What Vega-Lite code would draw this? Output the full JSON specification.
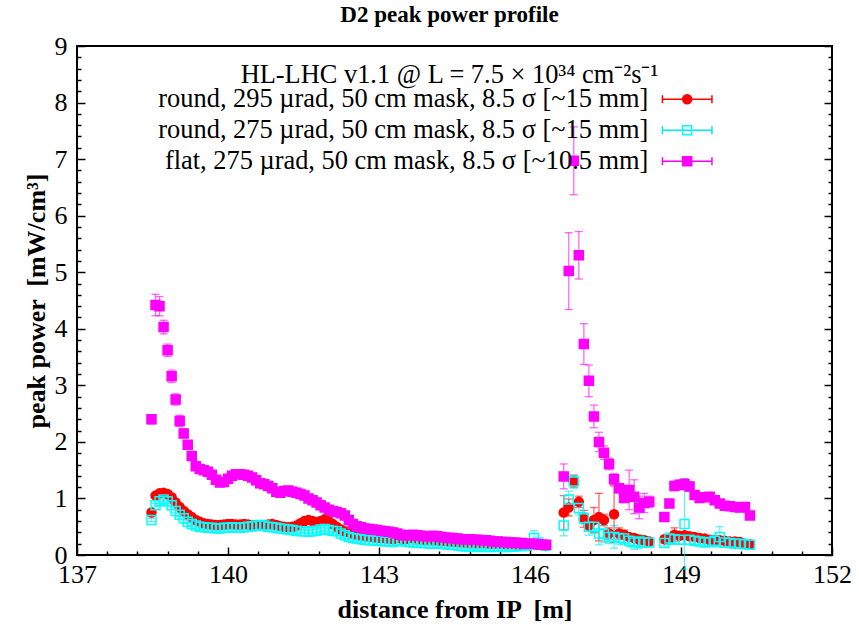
{
  "$schema": "https://vega.github.io/schema/vega-lite/v6.json",
  "width": 755,
  "height": 509,
  "autosize": "none",
  "padding": {"left": 77, "top": 46, "right": 27, "bottom": 70},
  "background": "white",
  "title": {
    "text": "D2 peak power profile", "font": "Liberation Serif", "fontSize": 23, "fontWeight": "bold", "color": "black",
    "subtitle": "HL-LHC v1.1 @ L = 7.5 × 10³⁴ cm⁻²s⁻¹", "subtitleFont": "Liberation Serif", "subtitleFontSize": 26.4, "subtitleColor": "black", "subtitlePadding": 35,
    "offset": -55, "dx": -5, "anchor": "middle"
  },
  "data": {"values": [
{"s":"a","x":138.48,"y":0.75,"e":0.04},{"s":"a","x":138.56,"y":1.05,"e":0.03},{"s":"a","x":138.64,"y":1.09,"e":0.03},{"s":"a","x":138.72,"y":1.10,"e":0.03},{"s":"a","x":138.8,"y":1.08,"e":0.03},{"s":"a","x":138.88,"y":1.02,"e":0.03},{"s":"a","x":138.96,"y":0.93,"e":0.03},{"s":"a","x":139.04,"y":0.85,"e":0.03},{"s":"a","x":139.12,"y":0.78,"e":0.03},{"s":"a","x":139.2,"y":0.72,"e":0.03},
{"s":"a","x":139.28,"y":0.67,"e":0.03},{"s":"a","x":139.36,"y":0.62,"e":0.03},{"s":"a","x":139.44,"y":0.59,"e":0.03},{"s":"a","x":139.52,"y":0.56,"e":0.03},{"s":"a","x":139.6,"y":0.55,"e":0.03},{"s":"a","x":139.68,"y":0.54,"e":0.03},{"s":"a","x":139.76,"y":0.53,"e":0.03},{"s":"a","x":139.84,"y":0.53,"e":0.03},{"s":"a","x":139.92,"y":0.54,"e":0.03},{"s":"a","x":140,"y":0.55,"e":0.03},
{"s":"a","x":140.08,"y":0.55,"e":0.03},{"s":"a","x":140.16,"y":0.54,"e":0.03},{"s":"a","x":140.24,"y":0.54,"e":0.03},{"s":"a","x":140.32,"y":0.55,"e":0.03},{"s":"a","x":140.4,"y":0.54,"e":0.03},{"s":"a","x":140.48,"y":0.53,"e":0.03},{"s":"a","x":140.56,"y":0.53,"e":0.03},{"s":"a","x":140.64,"y":0.52,"e":0.03},{"s":"a","x":140.72,"y":0.53,"e":0.03},{"s":"a","x":140.8,"y":0.54,"e":0.03},
{"s":"a","x":140.88,"y":0.55,"e":0.03},{"s":"a","x":140.96,"y":0.53,"e":0.03},{"s":"a","x":141.04,"y":0.51,"e":0.03},{"s":"a","x":141.12,"y":0.50,"e":0.03},{"s":"a","x":141.2,"y":0.49,"e":0.03},{"s":"a","x":141.28,"y":0.50,"e":0.03},{"s":"a","x":141.36,"y":0.52,"e":0.03},{"s":"a","x":141.44,"y":0.56,"e":0.03},{"s":"a","x":141.52,"y":0.60,"e":0.03},{"s":"a","x":141.6,"y":0.62,"e":0.03},
{"s":"a","x":141.68,"y":0.60,"e":0.03},{"s":"a","x":141.76,"y":0.58,"e":0.03},{"s":"a","x":141.84,"y":0.60,"e":0.03},{"s":"a","x":141.92,"y":0.63,"e":0.03},{"s":"a","x":142,"y":0.60,"e":0.03},{"s":"a","x":142.08,"y":0.55,"e":0.03},{"s":"a","x":142.16,"y":0.50,"e":0.03},{"s":"a","x":142.24,"y":0.45,"e":0.03},{"s":"a","x":142.32,"y":0.42,"e":0.03},{"s":"a","x":142.4,"y":0.40,"e":0.03},
{"s":"a","x":142.48,"y":0.38,"e":0.03},{"s":"a","x":142.56,"y":0.36,"e":0.03},{"s":"a","x":142.64,"y":0.35,"e":0.03},{"s":"a","x":142.72,"y":0.34,"e":0.03},{"s":"a","x":142.8,"y":0.33,"e":0.03},{"s":"a","x":142.88,"y":0.32,"e":0.03},{"s":"a","x":142.96,"y":0.31,"e":0.03},{"s":"a","x":143.04,"y":0.30,"e":0.03},{"s":"a","x":143.12,"y":0.30,"e":0.03},{"s":"a","x":143.2,"y":0.29,"e":0.03},
{"s":"a","x":143.28,"y":0.28,"e":0.03},{"s":"a","x":143.36,"y":0.30,"e":0.03},{"s":"a","x":143.44,"y":0.29,"e":0.03},{"s":"a","x":143.52,"y":0.28,"e":0.03},{"s":"a","x":143.6,"y":0.30,"e":0.03},{"s":"a","x":143.68,"y":0.31,"e":0.03},{"s":"a","x":143.76,"y":0.29,"e":0.03},{"s":"a","x":143.84,"y":0.28,"e":0.03},{"s":"a","x":143.92,"y":0.27,"e":0.03},{"s":"a","x":144,"y":0.28,"e":0.03},
{"s":"a","x":144.08,"y":0.27,"e":0.03},{"s":"a","x":144.16,"y":0.26,"e":0.03},{"s":"a","x":144.24,"y":0.25,"e":0.03},{"s":"a","x":144.32,"y":0.25,"e":0.03},{"s":"a","x":144.4,"y":0.24,"e":0.03},{"s":"a","x":144.48,"y":0.24,"e":0.03},{"s":"a","x":144.56,"y":0.23,"e":0.03},{"s":"a","x":144.64,"y":0.23,"e":0.03},{"s":"a","x":144.72,"y":0.22,"e":0.03},{"s":"a","x":144.8,"y":0.22,"e":0.03},
{"s":"a","x":144.88,"y":0.22,"e":0.03},{"s":"a","x":144.96,"y":0.21,"e":0.03},{"s":"a","x":145.04,"y":0.21,"e":0.03},{"s":"a","x":145.12,"y":0.21,"e":0.03},{"s":"a","x":145.2,"y":0.20,"e":0.03},{"s":"a","x":145.28,"y":0.20,"e":0.03},{"s":"a","x":145.36,"y":0.21,"e":0.03},{"s":"a","x":145.44,"y":0.20,"e":0.03},{"s":"a","x":145.52,"y":0.19,"e":0.03},{"s":"a","x":145.6,"y":0.19,"e":0.03},
{"s":"a","x":145.68,"y":0.19,"e":0.03},{"s":"a","x":145.76,"y":0.18,"e":0.03},{"s":"a","x":145.84,"y":0.18,"e":0.03},{"s":"a","x":145.92,"y":0.18,"e":0.03},{"s":"a","x":146,"y":0.17,"e":0.03},{"s":"a","x":146.08,"y":0.18,"e":0.03},{"s":"a","x":146.16,"y":0.18,"e":0.03},{"s":"a","x":146.24,"y":0.17,"e":0.03},{"s":"a","x":146.32,"y":0.16,"e":0.03},
{"s":"a","x":146.67,"y":0.75,"e":0.3},{"s":"a","x":146.77,"y":0.84,"e":0.15},{"s":"a","x":146.87,"y":1.30,"e":0.1},{"s":"a","x":146.97,"y":0.94,"e":0.1},{"s":"a","x":147.07,"y":0.64,"e":0.15},{"s":"a","x":147.17,"y":0.52,"e":0.1},{"s":"a","x":147.27,"y":0.62,"e":0.22},{"s":"a","x":147.37,"y":0.67,"e":0.42},{"s":"a","x":147.47,"y":0.62,"e":0.1},{"s":"a","x":147.57,"y":0.38,"e":0.1},
{"s":"a","x":147.67,"y":0.72,"e":0.5},{"s":"a","x":147.77,"y":0.38,"e":0.1},{"s":"a","x":147.87,"y":0.36,"e":0.08},{"s":"a","x":147.97,"y":0.32,"e":0.06},{"s":"a","x":148.07,"y":0.30,"e":0.06},{"s":"a","x":148.17,"y":0.27,"e":0.05},{"s":"a","x":148.27,"y":0.26,"e":0.05},{"s":"a","x":148.37,"y":0.24,"e":0.05},
{"s":"a","x":148.67,"y":0.28,"e":0.05},{"s":"a","x":148.77,"y":0.28,"e":0.05},{"s":"a","x":148.87,"y":0.36,"e":0.12},{"s":"a","x":148.97,"y":0.34,"e":0.06},{"s":"a","x":149.07,"y":0.35,"e":0.06},{"s":"a","x":149.17,"y":0.33,"e":0.05},{"s":"a","x":149.27,"y":0.32,"e":0.05},{"s":"a","x":149.37,"y":0.30,"e":0.05},{"s":"a","x":149.47,"y":0.29,"e":0.05},{"s":"a","x":149.57,"y":0.27,"e":0.05},
{"s":"a","x":149.67,"y":0.26,"e":0.05},{"s":"a","x":149.77,"y":0.26,"e":0.05},{"s":"a","x":149.87,"y":0.25,"e":0.05},{"s":"a","x":149.97,"y":0.24,"e":0.05},{"s":"a","x":150.07,"y":0.24,"e":0.04},{"s":"a","x":150.17,"y":0.23,"e":0.06},{"s":"a","x":150.27,"y":0.20,"e":0.04},{"s":"a","x":150.37,"y":0.19,"e":0.03},
{"s":"b","x":138.48,"y":0.62,"e":0.03},{"s":"b","x":138.56,"y":0.88,"e":0.03},{"s":"b","x":138.64,"y":0.95,"e":0.03},{"s":"b","x":138.72,"y":0.98,"e":0.03},{"s":"b","x":138.8,"y":0.95,"e":0.03},{"s":"b","x":138.88,"y":0.88,"e":0.03},{"s":"b","x":138.96,"y":0.78,"e":0.03},{"s":"b","x":139.04,"y":0.71,"e":0.03},{"s":"b","x":139.12,"y":0.65,"e":0.03},{"s":"b","x":139.2,"y":0.59,"e":0.03},
{"s":"b","x":139.28,"y":0.55,"e":0.03},{"s":"b","x":139.36,"y":0.52,"e":0.03},{"s":"b","x":139.44,"y":0.50,"e":0.03},{"s":"b","x":139.52,"y":0.49,"e":0.03},{"s":"b","x":139.6,"y":0.48,"e":0.03},{"s":"b","x":139.68,"y":0.48,"e":0.03},{"s":"b","x":139.76,"y":0.47,"e":0.03},{"s":"b","x":139.84,"y":0.47,"e":0.03},{"s":"b","x":139.92,"y":0.48,"e":0.03},{"s":"b","x":140,"y":0.48,"e":0.03},
{"s":"b","x":140.08,"y":0.49,"e":0.03},{"s":"b","x":140.16,"y":0.48,"e":0.03},{"s":"b","x":140.24,"y":0.48,"e":0.03},{"s":"b","x":140.32,"y":0.49,"e":0.03},{"s":"b","x":140.4,"y":0.50,"e":0.03},{"s":"b","x":140.48,"y":0.51,"e":0.03},{"s":"b","x":140.56,"y":0.52,"e":0.03},{"s":"b","x":140.64,"y":0.53,"e":0.03},{"s":"b","x":140.72,"y":0.52,"e":0.03},{"s":"b","x":140.8,"y":0.50,"e":0.03},
{"s":"b","x":140.88,"y":0.49,"e":0.03},{"s":"b","x":140.96,"y":0.48,"e":0.03},{"s":"b","x":141.04,"y":0.47,"e":0.03},{"s":"b","x":141.12,"y":0.46,"e":0.03},{"s":"b","x":141.2,"y":0.45,"e":0.03},{"s":"b","x":141.28,"y":0.44,"e":0.03},{"s":"b","x":141.36,"y":0.43,"e":0.03},{"s":"b","x":141.44,"y":0.42,"e":0.03},{"s":"b","x":141.52,"y":0.42,"e":0.03},{"s":"b","x":141.6,"y":0.41,"e":0.03},
{"s":"b","x":141.68,"y":0.42,"e":0.03},{"s":"b","x":141.76,"y":0.43,"e":0.03},{"s":"b","x":141.84,"y":0.45,"e":0.03},{"s":"b","x":141.92,"y":0.46,"e":0.03},{"s":"b","x":142,"y":0.44,"e":0.03},{"s":"b","x":142.08,"y":0.43,"e":0.03},{"s":"b","x":142.16,"y":0.42,"e":0.03},{"s":"b","x":142.24,"y":0.38,"e":0.03},{"s":"b","x":142.32,"y":0.35,"e":0.03},{"s":"b","x":142.4,"y":0.32,"e":0.03},
{"s":"b","x":142.48,"y":0.30,"e":0.03},{"s":"b","x":142.56,"y":0.29,"e":0.03},{"s":"b","x":142.64,"y":0.28,"e":0.03},{"s":"b","x":142.72,"y":0.27,"e":0.03},{"s":"b","x":142.8,"y":0.26,"e":0.03},{"s":"b","x":142.88,"y":0.26,"e":0.03},{"s":"b","x":142.96,"y":0.25,"e":0.03},{"s":"b","x":143.04,"y":0.25,"e":0.03},{"s":"b","x":143.12,"y":0.24,"e":0.03},{"s":"b","x":143.2,"y":0.24,"e":0.03},
{"s":"b","x":143.28,"y":0.23,"e":0.03},{"s":"b","x":143.36,"y":0.25,"e":0.03},{"s":"b","x":143.44,"y":0.26,"e":0.03},{"s":"b","x":143.52,"y":0.24,"e":0.03},{"s":"b","x":143.6,"y":0.23,"e":0.03},{"s":"b","x":143.68,"y":0.22,"e":0.03},{"s":"b","x":143.76,"y":0.22,"e":0.03},{"s":"b","x":143.84,"y":0.21,"e":0.03},{"s":"b","x":143.92,"y":0.21,"e":0.03},{"s":"b","x":144,"y":0.20,"e":0.03},
{"s":"b","x":144.08,"y":0.20,"e":0.03},{"s":"b","x":144.16,"y":0.21,"e":0.03},{"s":"b","x":144.24,"y":0.20,"e":0.03},{"s":"b","x":144.32,"y":0.19,"e":0.03},{"s":"b","x":144.4,"y":0.18,"e":0.03},{"s":"b","x":144.48,"y":0.18,"e":0.03},{"s":"b","x":144.56,"y":0.17,"e":0.03},{"s":"b","x":144.64,"y":0.16,"e":0.03},{"s":"b","x":144.72,"y":0.15,"e":0.03},{"s":"b","x":144.8,"y":0.15,"e":0.03},
{"s":"b","x":144.88,"y":0.14,"e":0.03},{"s":"b","x":144.96,"y":0.15,"e":0.03},{"s":"b","x":145.04,"y":0.15,"e":0.03},{"s":"b","x":145.12,"y":0.14,"e":0.03},{"s":"b","x":145.2,"y":0.14,"e":0.03},{"s":"b","x":145.28,"y":0.15,"e":0.03},{"s":"b","x":145.36,"y":0.15,"e":0.03},{"s":"b","x":145.44,"y":0.14,"e":0.03},{"s":"b","x":145.52,"y":0.14,"e":0.03},{"s":"b","x":145.6,"y":0.15,"e":0.03},
{"s":"b","x":145.68,"y":0.15,"e":0.03},{"s":"b","x":145.76,"y":0.16,"e":0.03},{"s":"b","x":145.84,"y":0.16,"e":0.03},{"s":"b","x":145.92,"y":0.17,"e":0.03},{"s":"b","x":146,"y":0.18,"e":0.03},{"s":"b","x":146.08,"y":0.30,"e":0.13},{"s":"b","x":146.16,"y":0.22,"e":0.03},{"s":"b","x":146.24,"y":0.18,"e":0.03},{"s":"b","x":146.32,"y":0.17,"e":0.03},
{"s":"b","x":146.67,"y":0.52,"e":0.18},{"s":"b","x":146.77,"y":0.98,"e":0.15},{"s":"b","x":146.87,"y":1.30,"e":0.12},{"s":"b","x":146.97,"y":0.83,"e":0.12},{"s":"b","x":147.07,"y":0.65,"e":0.1},{"s":"b","x":147.17,"y":0.50,"e":0.15},{"s":"b","x":147.27,"y":0.50,"e":0.12},{"s":"b","x":147.37,"y":0.38,"e":0.2},{"s":"b","x":147.47,"y":0.37,"e":0.15},{"s":"b","x":147.57,"y":0.32,"e":0.12},
{"s":"b","x":147.67,"y":0.32,"e":0.2},{"s":"b","x":147.77,"y":0.30,"e":0.12},{"s":"b","x":147.87,"y":0.29,"e":0.1},{"s":"b","x":147.97,"y":0.25,"e":0.1},{"s":"b","x":148.07,"y":0.22,"e":0.12},{"s":"b","x":148.17,"y":0.24,"e":0.12},{"s":"b","x":148.27,"y":0.22,"e":0.08},{"s":"b","x":148.37,"y":0.22,"e":0.05},
{"s":"b","x":148.67,"y":0.21,"e":0.05},{"s":"b","x":148.77,"y":0.29,"e":0.1},{"s":"b","x":148.87,"y":0.28,"e":0.08},{"s":"b","x":148.97,"y":0.27,"e":0.08},{"s":"b","x":149.07,"y":0.55,"e":0.8},{"s":"b","x":149.17,"y":0.27,"e":0.08},{"s":"b","x":149.27,"y":0.25,"e":0.06},{"s":"b","x":149.37,"y":0.24,"e":0.05},{"s":"b","x":149.47,"y":0.22,"e":0.05},{"s":"b","x":149.57,"y":0.23,"e":0.06},
{"s":"b","x":149.67,"y":0.25,"e":0.1},{"s":"b","x":149.77,"y":0.32,"e":0.18},{"s":"b","x":149.87,"y":0.22,"e":0.08},{"s":"b","x":149.97,"y":0.21,"e":0.06},{"s":"b","x":150.07,"y":0.20,"e":0.05},{"s":"b","x":150.17,"y":0.20,"e":0.05},{"s":"b","x":150.27,"y":0.19,"e":0.04},{"s":"b","x":150.37,"y":0.18,"e":0.04},
{"s":"c","x":138.48,"y":2.40,"e":0.08},{"s":"c","x":138.56,"y":4.42,"e":0.19},{"s":"c","x":138.64,"y":4.40,"e":0.17},{"s":"c","x":138.72,"y":4.03,"e":0.12},{"s":"c","x":138.8,"y":3.62,"e":0.11},{"s":"c","x":138.88,"y":3.16,"e":0.11},{"s":"c","x":138.96,"y":2.75,"e":0.1},{"s":"c","x":139.04,"y":2.37,"e":0.1},{"s":"c","x":139.12,"y":2.15,"e":0.08},{"s":"c","x":139.2,"y":1.95,"e":0.07},
{"s":"c","x":139.28,"y":1.75,"e":0.06},{"s":"c","x":139.36,"y":1.57,"e":0.05},{"s":"c","x":139.44,"y":1.52,"e":0.05},{"s":"c","x":139.52,"y":1.50,"e":0.05},{"s":"c","x":139.6,"y":1.47,"e":0.05},{"s":"c","x":139.68,"y":1.42,"e":0.05},{"s":"c","x":139.76,"y":1.33,"e":0.04},{"s":"c","x":139.84,"y":1.28,"e":0.04},{"s":"c","x":139.92,"y":1.29,"e":0.04},{"s":"c","x":140,"y":1.35,"e":0.04},
{"s":"c","x":140.08,"y":1.40,"e":0.04},{"s":"c","x":140.16,"y":1.43,"e":0.04},{"s":"c","x":140.24,"y":1.43,"e":0.04},{"s":"c","x":140.32,"y":1.42,"e":0.04},{"s":"c","x":140.4,"y":1.40,"e":0.04},{"s":"c","x":140.48,"y":1.37,"e":0.04},{"s":"c","x":140.56,"y":1.32,"e":0.04},{"s":"c","x":140.64,"y":1.27,"e":0.04},{"s":"c","x":140.72,"y":1.25,"e":0.04},{"s":"c","x":140.8,"y":1.22,"e":0.04},
{"s":"c","x":140.88,"y":1.18,"e":0.04},{"s":"c","x":140.96,"y":1.12,"e":0.04},{"s":"c","x":141.04,"y":1.10,"e":0.04},{"s":"c","x":141.12,"y":1.13,"e":0.04},{"s":"c","x":141.2,"y":1.14,"e":0.04},{"s":"c","x":141.28,"y":1.12,"e":0.04},{"s":"c","x":141.36,"y":1.10,"e":0.04},{"s":"c","x":141.44,"y":1.08,"e":0.04},{"s":"c","x":141.52,"y":1.05,"e":0.04},{"s":"c","x":141.6,"y":1.00,"e":0.03},
{"s":"c","x":141.68,"y":0.97,"e":0.03},{"s":"c","x":141.76,"y":0.93,"e":0.03},{"s":"c","x":141.84,"y":0.88,"e":0.03},{"s":"c","x":141.92,"y":0.84,"e":0.03},{"s":"c","x":142,"y":0.80,"e":0.03},{"s":"c","x":142.08,"y":0.78,"e":0.03},{"s":"c","x":142.16,"y":0.76,"e":0.03},{"s":"c","x":142.24,"y":0.74,"e":0.03},{"s":"c","x":142.32,"y":0.70,"e":0.03},{"s":"c","x":142.4,"y":0.62,"e":0.03},
{"s":"c","x":142.48,"y":0.55,"e":0.03},{"s":"c","x":142.56,"y":0.51,"e":0.03},{"s":"c","x":142.64,"y":0.49,"e":0.03},{"s":"c","x":142.72,"y":0.47,"e":0.03},{"s":"c","x":142.8,"y":0.46,"e":0.03},{"s":"c","x":142.88,"y":0.45,"e":0.03},{"s":"c","x":142.96,"y":0.44,"e":0.03},{"s":"c","x":143.04,"y":0.43,"e":0.03},{"s":"c","x":143.12,"y":0.42,"e":0.03},{"s":"c","x":143.2,"y":0.41,"e":0.03},
{"s":"c","x":143.28,"y":0.40,"e":0.03},{"s":"c","x":143.36,"y":0.38,"e":0.03},{"s":"c","x":143.44,"y":0.36,"e":0.03},{"s":"c","x":143.52,"y":0.35,"e":0.03},{"s":"c","x":143.6,"y":0.35,"e":0.03},{"s":"c","x":143.68,"y":0.36,"e":0.03},{"s":"c","x":143.76,"y":0.35,"e":0.03},{"s":"c","x":143.84,"y":0.34,"e":0.03},{"s":"c","x":143.92,"y":0.33,"e":0.03},{"s":"c","x":144,"y":0.33,"e":0.03},
{"s":"c","x":144.08,"y":0.34,"e":0.03},{"s":"c","x":144.16,"y":0.33,"e":0.03},{"s":"c","x":144.24,"y":0.32,"e":0.03},{"s":"c","x":144.32,"y":0.31,"e":0.03},{"s":"c","x":144.4,"y":0.30,"e":0.03},{"s":"c","x":144.48,"y":0.30,"e":0.03},{"s":"c","x":144.56,"y":0.29,"e":0.03},{"s":"c","x":144.64,"y":0.28,"e":0.03},{"s":"c","x":144.72,"y":0.28,"e":0.03},{"s":"c","x":144.8,"y":0.28,"e":0.03},
{"s":"c","x":144.88,"y":0.27,"e":0.03},{"s":"c","x":144.96,"y":0.27,"e":0.03},{"s":"c","x":145.04,"y":0.26,"e":0.03},{"s":"c","x":145.12,"y":0.26,"e":0.03},{"s":"c","x":145.2,"y":0.25,"e":0.03},{"s":"c","x":145.28,"y":0.24,"e":0.03},{"s":"c","x":145.36,"y":0.24,"e":0.03},{"s":"c","x":145.44,"y":0.23,"e":0.03},{"s":"c","x":145.52,"y":0.23,"e":0.03},{"s":"c","x":145.6,"y":0.22,"e":0.03},
{"s":"c","x":145.68,"y":0.22,"e":0.03},{"s":"c","x":145.76,"y":0.21,"e":0.03},{"s":"c","x":145.84,"y":0.21,"e":0.03},{"s":"c","x":145.92,"y":0.20,"e":0.03},{"s":"c","x":146,"y":0.20,"e":0.03},{"s":"c","x":146.08,"y":0.20,"e":0.03},{"s":"c","x":146.16,"y":0.19,"e":0.03},{"s":"c","x":146.24,"y":0.18,"e":0.03},{"s":"c","x":146.32,"y":0.18,"e":0.03},
{"s":"c","x":146.67,"y":1.39,"e":0.22},{"s":"c","x":146.77,"y":5.02,"e":0.68},{"s":"c","x":146.87,"y":6.97,"e":0.6},{"s":"c","x":146.97,"y":5.30,"e":0.42},{"s":"c","x":147.07,"y":3.73,"e":0.36},{"s":"c","x":147.17,"y":3.08,"e":0.28},{"s":"c","x":147.27,"y":2.45,"e":0.2},{"s":"c","x":147.37,"y":2.00,"e":0.17},{"s":"c","x":147.47,"y":1.81,"e":0.12},{"s":"c","x":147.57,"y":1.61,"e":0.1},
{"s":"c","x":147.67,"y":1.34,"e":0.1},{"s":"c","x":147.77,"y":1.18,"e":0.08},{"s":"c","x":147.87,"y":1.01,"e":0.08},{"s":"c","x":147.97,"y":1.15,"e":0.35},{"s":"c","x":148.07,"y":1.03,"e":0.3},{"s":"c","x":148.17,"y":0.84,"e":0.2},{"s":"c","x":148.27,"y":0.92,"e":0.17},{"s":"c","x":148.37,"y":0.94,"e":0.1},
{"s":"c","x":148.67,"y":0.67,"e":0.05},{"s":"c","x":148.77,"y":0.91,"e":0.05},{"s":"c","x":148.87,"y":1.22,"e":0.08},{"s":"c","x":148.97,"y":1.24,"e":0.08},{"s":"c","x":149.07,"y":1.25,"e":0.1},{"s":"c","x":149.17,"y":1.21,"e":0.08},{"s":"c","x":149.27,"y":1.06,"e":0.06},{"s":"c","x":149.37,"y":1.01,"e":0.06},{"s":"c","x":149.47,"y":1.02,"e":0.06},{"s":"c","x":149.57,"y":1.03,"e":0.05},
{"s":"c","x":149.67,"y":0.97,"e":0.05},{"s":"c","x":149.77,"y":0.91,"e":0.05},{"s":"c","x":149.87,"y":0.87,"e":0.05},{"s":"c","x":149.97,"y":0.86,"e":0.05},{"s":"c","x":150.07,"y":0.85,"e":0.05},{"s":"c","x":150.17,"y":0.84,"e":0.05},{"s":"c","x":150.27,"y":0.85,"e":0.05},{"s":"c","x":150.37,"y":0.70,"e":0.04}
  ]},
  "encoding": {
    "x": {
      "field": "x", "type": "quantitative",
      "scale": {"domain": [137, 152], "nice": false, "zero": false},
      "axis": {
        "title": "distance from IP \u00a0[m]",
        "values": [137,137.6,138.2,138.8,139.4,140,140.6,141.2,141.8,142.4,143,143.6,144.2,144.8,145.4,146,146.6,147.2,147.8,148.4,149,149.6,150.2,150.8,151.4,152],
        "labelExpr": "abs((datum.value-137)/3-round((datum.value-137)/3))<0.01 ? toString(round(datum.value)) : ''",
        "tickSize": {"condition": {"test": "abs((datum.value-137)/3-round((datum.value-137)/3))<0.01", "value": -8}, "value": -4},
        "labelPadding": 14,
        "titlePadding": 5
      }
    }
  },
  "layer": [
    {
      "mark": {"type": "errorbar", "ticks": {"size": 8}, "thickness": 1.3, "opacity": 0.6},
      "encoding": {
        "y": {
          "field": "y", "type": "quantitative",
          "scale": {"domain": [0, 9], "nice": false, "zero": true},
          "axis": {
            "orient": "right", "title": null, "labels": false,
            "values": [0,0.2,0.4,0.6,0.8,1,1.2,1.4,1.6,1.8,2,2.2,2.4,2.6,2.8,3,3.2,3.4,3.6,3.8,4,4.2,4.4,4.6,4.8,5,5.2,5.4,5.6,5.8,6,6.2,6.4,6.6,6.8,7,7.2,7.4,7.6,7.8,8,8.2,8.4,8.6,8.8,9],
            "tickSize": {"condition": {"test": "abs(datum.value-round(datum.value))<0.01", "value": -8}, "value": -4}
          }
        },
        "yError": {"field": "e"},
        "color": {
          "field": "s", "type": "nominal",
          "scale": {"domain": ["c", "a", "b"], "range": ["#ff00ff", "#ff0000", "#00e8e8"]},
          "legend": {
            "orient": "none", "legendX": 597, "legendY": 40,
            "title": null, "padding": 0, "values": ["a", "b", "c"],
            "labelExpr": "' '", "labelFont": "Liberation Serif", "labelFontSize": 26.4,
            "labelAlign": "right", "labelOffset": -52,
            "rowPadding": 4,
            "symbolType": "M-5.5,0L5.5,0M-5.5,-0.9L-5.5,0.9M5.5,-0.9L5.5,0.9",
            "symbolSize": 81, "symbolStrokeWidth": 1.5, "symbolOpacity": 1
          }
        }
      }
    },
    {
      "mark": {"type": "point", "opacity": 1, "size": 81, "strokeWidth": 1.5},
      "encoding": {
        "y": {
          "field": "y", "type": "quantitative",
          "scale": {"domain": [0, 9], "nice": false, "zero": true},
          "axis": {
            "orient": "left", "title": "peak power \u00a0[mW/cm³]",
            "values": [0,0.2,0.4,0.6,0.8,1,1.2,1.4,1.6,1.8,2,2.2,2.4,2.6,2.8,3,3.2,3.4,3.6,3.8,4,4.2,4.4,4.6,4.8,5,5.2,5.4,5.6,5.8,6,6.2,6.4,6.6,6.8,7,7.2,7.4,7.6,7.8,8,8.2,8.4,8.6,8.8,9],
            "labelExpr": "abs(datum.value-round(datum.value))<0.01 ? toString(round(datum.value)) : ''",
            "tickSize": {"condition": {"test": "abs(datum.value-round(datum.value))<0.01", "value": -8}, "value": -4},
            "labelPadding": 18,
            "titlePadding": 5
          }
        },
        "shape": {"field": "s", "type": "nominal", "scale": {"domain": ["a", "b", "c"], "range": ["circle", "square", "square"]}},
        "fill": {"field": "s", "type": "nominal", "scale": {"domain": ["a", "b", "c"], "range": ["#ff0000", "transparent", "#ff00ff"]}},
        "stroke": {
          "field": "s", "type": "nominal",
          "scale": {"domain": ["a", "b", "c"], "range": ["#ff0000", "#00ffff", "#ff00ff"]},
          "legend": {
            "orient": "none", "legendX": 597, "legendY": 40,
            "title": null, "padding": 0,
            "labelFont": "Liberation Serif", "labelFontSize": 26.4, "labelColor": "black",
            "labelAlign": "right", "labelOffset": -52, "labelLimit": 700,
            "rowPadding": 4,
            "symbolSize": 81, "symbolStrokeWidth": 1.5, "symbolOpacity": 1,
            "labelExpr": "datum.value === 'a' ? 'round, 295 µrad, 50 cm mask, 8.5 σ [~15 mm]' : datum.value === 'b' ? 'round, 275 µrad, 50 cm mask, 8.5 σ [~15 mm]' : 'flat, 275 µrad, 50 cm mask, 8.5 σ [~10.5 mm]'"
          }
        }
      }
    }
  ],
  "resolve": {"axis": {"y": "independent"}},
  "config": {
    "font": "Liberation Serif",
    "view": {"stroke": "black", "strokeWidth": 2},
    "axis": {
      "labelFont": "Liberation Serif", "labelFontSize": 26, "labelColor": "black",
      "titleFont": "Liberation Serif", "titleFontSize": 26, "titleFontWeight": "bold", "titleColor": "black",
      "tickColor": "black", "tickWidth": 1.5, "domain": false, "grid": false,
      "labelFlush": false, "labelOverlap": false, "labelBound": false
    }
  }
}
